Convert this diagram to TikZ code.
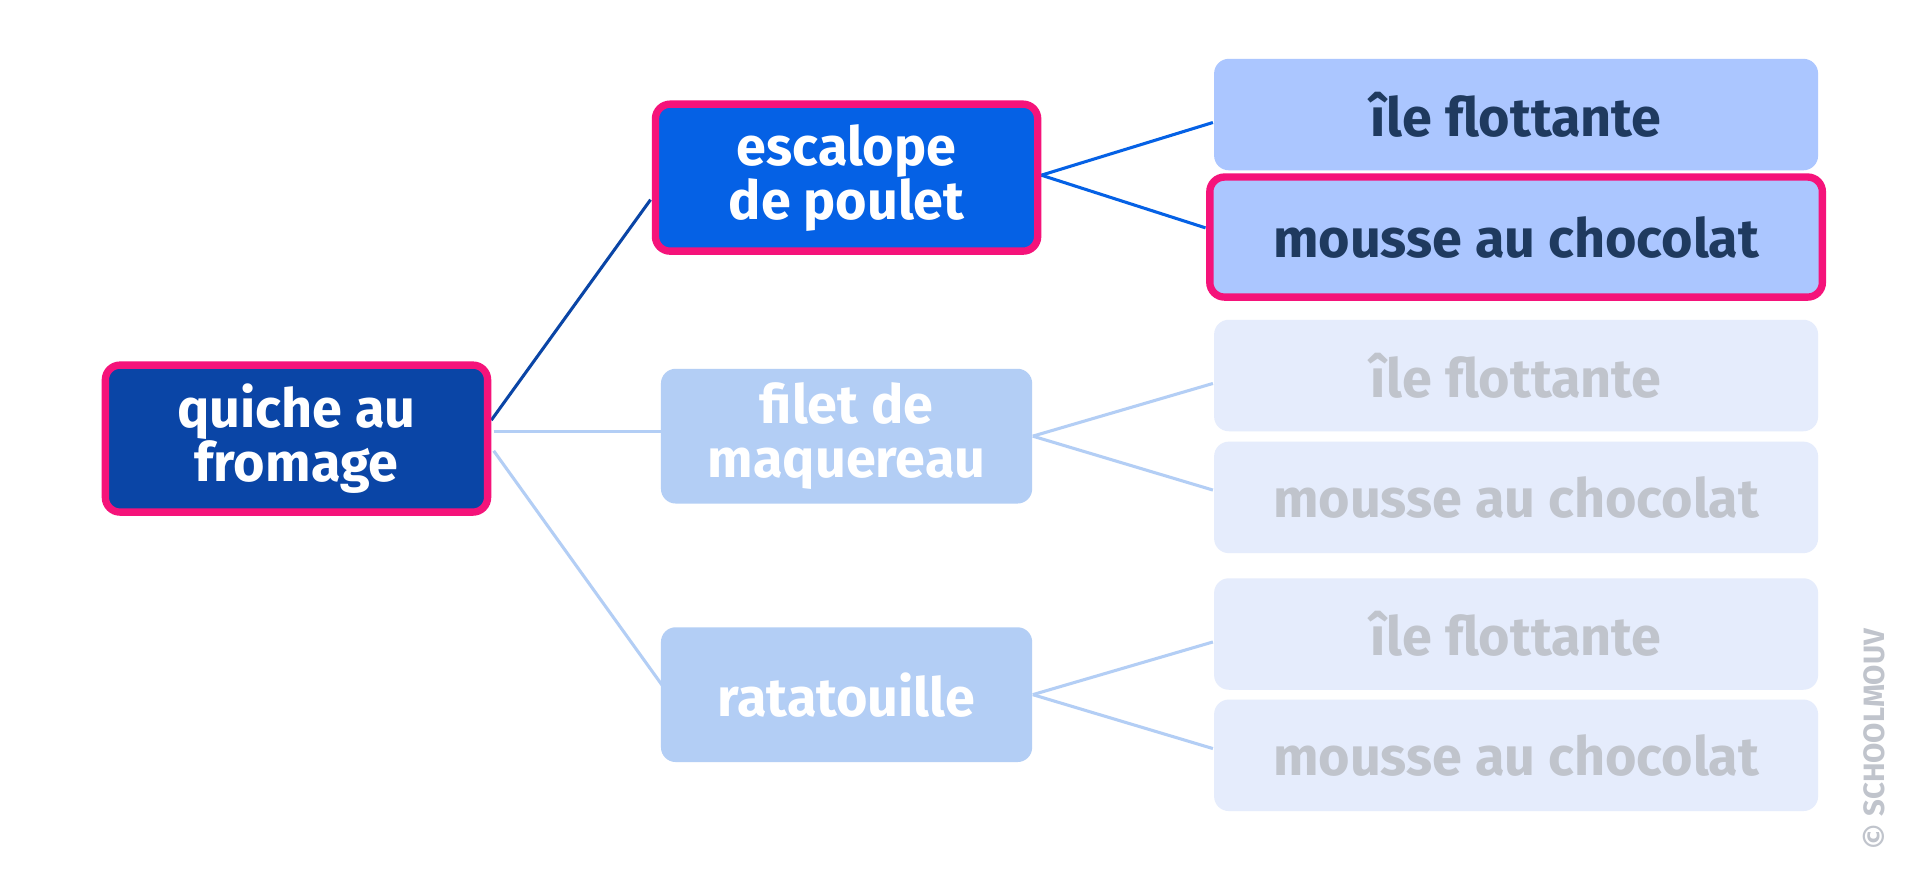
\documentclass[tikz,border=0pt]{standalone}
\usepackage{fontspec}
\setmainfont{Fira Sans}
\begin{document}
\begin{tikzpicture}[x=1pt,y=-1pt,
 box/.style={rounded corners=12pt,align=center,font=\fontsize{44}{44}\selectfont\bfseries,inner sep=0pt},
 sel/.style={draw=pinkc,line width=6pt},
 lnk/.style={line width=2.5pt}]
\definecolor{pinkc}{HTML}{F5137A}
\definecolor{dblue}{HTML}{0A45A6}
\definecolor{mblue}{HTML}{0561E5}
\definecolor{lblue}{HTML}{B3CEF5}
\definecolor{rblue}{HTML}{ABC6FF}
\definecolor{fblue}{HTML}{E5ECFC}
\definecolor{dtext}{HTML}{1F3A5F}
\definecolor{ftext}{HTML}{C0C4CC}
\useasboundingbox (0,0) rectangle (1568,712);
\fill[white] (0,0) rectangle (1568,712);
% lines
\coordinate (q1) at (401,343); \coordinate (q2) at (403,352); \coordinate (q3) at (403,368);
\coordinate (e0) at (850,143); \coordinate (f0) at (843,356); \coordinate (r0) at (843,567);
\draw[lnk,dblue] (q1) -- (531,163);
\draw[lnk,lblue] (q2) -- (543,352);
\draw[lnk,lblue] (q3) -- (546,567);
\draw[lnk,mblue] (e0) -- (990,100);
\draw[lnk,mblue] (e0) -- (984,186);
\draw[lnk,lblue] (f0) -- (990,313);
\draw[lnk,lblue] (f0) -- (990,400);
\draw[lnk,lblue] (r0) -- (990,524);
\draw[lnk,lblue] (r0) -- (990,611);
% boxes
\node[box,sel,fill=dblue,text=white,minimum width=312pt,minimum height=120pt] (q) at (242,358) {quiche au\\fromage};
\node[box,sel,fill=mblue,text=white,minimum width=312pt,minimum height=120pt] (e) at (691,145) {escalope\\de poulet};
\node[box,fill=lblue,text=white,minimum width=303pt,minimum height=110pt] (f) at (691,356) {filet de\\maquereau};
\node[box,fill=lblue,text=white,minimum width=303pt,minimum height=110pt] (r) at (691,567) {ratatouille};
\node[box,fill=rblue,text=dtext,minimum width=493pt,minimum height=91pt] (i1) at (1237.5,93.5) {île flottante};
\node[box,sel,fill=rblue,text=dtext,minimum width=500pt,minimum height=98pt] (m1) at (1237.5,193.5) {mousse au chocolat};
\node[box,fill=fblue,text=ftext,minimum width=493pt,minimum height=91pt] (i2) at (1237.5,306.5) {île flottante};
\node[box,fill=fblue,text=ftext,minimum width=493pt,minimum height=91pt] (m2) at (1237.5,406) {mousse au chocolat};
\node[box,fill=fblue,text=ftext,minimum width=493pt,minimum height=91pt] (i3) at (1237.5,517.5) {île flottante};
\node[box,fill=fblue,text=ftext,minimum width=493pt,minimum height=91pt] (m3) at (1237.5,616.5) {mousse au chocolat};
\node[rotate=90,text=ftext,font=\fontsize{24}{24}\selectfont\bfseries] (c) at (1530,604) {\fontspec{DejaVu Sans}©\,\fontspec{Fira Sans}SCHOOLMOUV};
\end{tikzpicture}
\end{document}
